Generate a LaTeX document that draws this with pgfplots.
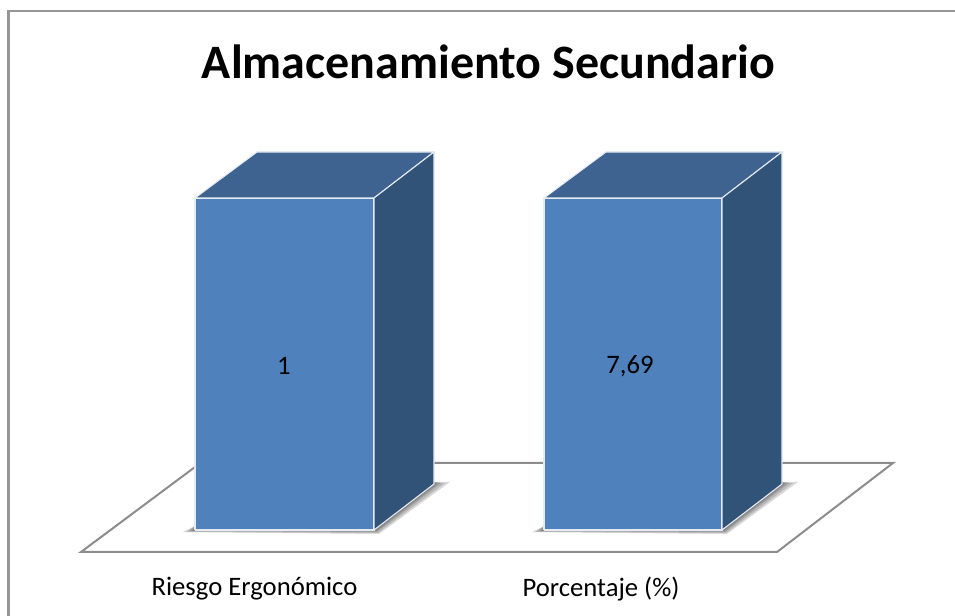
\documentclass[border=0pt]{standalone}
\usepackage{pgfplots}
\pgfplotsset{compat=1.18}
\usepackage{fontspec}
\setmainfont{Carlito}
\definecolor{front}{HTML}{4F81BD}
\definecolor{topface}{HTML}{3F6391}
\definecolor{sideface}{HTML}{325378}
\definecolor{edge}{HTML}{E6EBF2}
\definecolor{frame}{HTML}{969696}
\definecolor{floorline}{HTML}{8C8C8C}
\pgfplotsset{
  lbl/.style={draw=none,mark=none,point meta=explicit symbolic,
    nodes near coords,nodes near coords align={anchor=center},
    every node near coord/.append style={font=#1,text=black}},
  shade/.style={fill=black,draw=none,opacity=.15},
}
\begin{document}
\begin{tikzpicture}
\begin{axis}[
  name=a,anchor=south west,at={(0,0)},
  scale only axis,width=716.25pt,height=462pt,
  xmin=0,xmax=955,ymin=0,ymax=616,
  axis line style={draw=none},
  clip=false,
  ticks=none,
]
% outer frame, only top and left fall inside the picture
\addplot[frame,line width=1.7pt] coordinates {(8.5,0) (8.5,605) (955,605)};
% floor
\addplot[floorline,line width=1.5pt] coordinates {(195,149) (81,64) (777,64) (893,153) (434,153)};
% shadows, bar 1
\addplot[shade] coordinates {(183,84) (379,82) (450,134) (434,134) (374,90) (195,90)};
\addplot[shade] coordinates {(186,84) (378,83) (445,133) (434,134) (374,90) (195,90)};
\addplot[shade] coordinates {(189,85) (377,84) (441,133) (434,134) (374,90) (195,90)};
\addplot[shade] coordinates {(192,85) (376,85) (437,132) (434,134) (374,90) (195,90)};
% shadows, bar 2
\addplot[shade] coordinates {(532,84) (727,82) (798,134) (782,134) (722,90) (544,90)};
\addplot[shade] coordinates {(535,84) (726,83) (793,133) (782,134) (722,90) (544,90)};
\addplot[shade] coordinates {(538,85) (725,84) (789,133) (782,134) (722,90) (544,90)};
\addplot[shade] coordinates {(541,85) (724,85) (785,132) (782,134) (722,90) (544,90)};
% bar 1
\addplot[fill=front,draw=edge,line width=1.1pt] coordinates {(195,86) (374,86) (374,418) (195,418) (195,86)};
\addplot[fill=topface,draw=edge,line width=.8pt] coordinates {(195,418) (257,464) (434,464) (374,418) (195,418)};
\addplot[fill=sideface,draw=edge,line width=.8pt] coordinates {(374,86) (434,132) (434,464) (374,418) (374,86)};
% bar 2
\addplot[fill=front,draw=edge,line width=1.1pt] coordinates {(544,86) (722,86) (722,418) (544,418) (544,86)};
\addplot[fill=topface,draw=edge,line width=.8pt] coordinates {(544,418) (606,464) (782,464) (722,418) (544,418)};
\addplot[fill=sideface,draw=edge,line width=.8pt] coordinates {(722,86) (782,132) (782,464) (722,418) (722,86)};
% value labels
\addplot[lbl={\fontsize{20pt}{22pt}\selectfont}] coordinates {(284,250)[1] (630,250)[{7,69}]};
% category labels
\addplot[lbl={\fontsize{20pt}{22pt}\selectfont}] coordinates {(254.5,27)[Riesgo Ergonómico] (601,27)[Porcentaje (\%)]};
% title
\addplot[lbl={\fontsize{36pt}{40pt}\selectfont\bfseries}] coordinates {(488.5,554)[Almacenamiento Secundario]};
\end{axis}
\pgfresetboundingbox
\useasboundingbox (a.south west) rectangle (a.north east);
\end{tikzpicture}
\end{document}
